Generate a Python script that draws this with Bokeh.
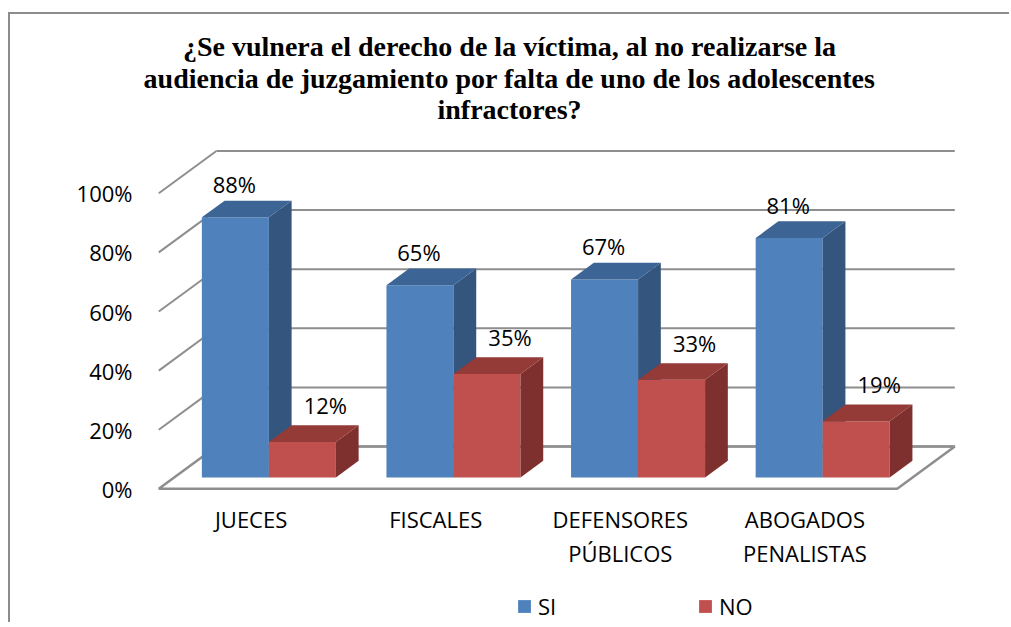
from bokeh.plotting import figure
from bokeh.models import Range1d, FixedTicker, Legend, LegendItem
from bokeh.core.properties import value
from bokeh.embed import file_html
from bokeh.resources import INLINE

# ---------------- data ----------------
categories = ["JUECES", "FISCALES", "DEFENSORES\nPÚBLICOS", "ABOGADOS\nPENALISTAS"]
series = ["SI", "NO"]
si_values = [88, 65, 67, 81]
no_values = [12, 35, 33, 19]
y_ticks = [0, 20, 40, 60, 80, 100]
y_tick_labels = ["0%", "20%", "40%", "60%", "80%", "100%"]
title_lines = [
    "¿Se vulnera el derecho de la víctima, al no realizarse la",
    "audiencia de juzgamiento por falta de uno de los adolescentes",
    "infractores?",
]

# ---------------- styles ----------------
front_colors = ["#4F81BD", "#C0504D"]
side_colors = ["#34557E", "#7E302E"]
top_colors = ["#3C6494", "#943A37"]
grid_color = "#8E8E8E"
border_css = "2px solid #8C8C8C"
FONT = "Open Sans"
TITLE_FONT = "Liberation Serif"

# layout in canvas px
W, H = 1001, 610
FL, FR, FT = 124, 21, 0
PX_CAT = 184.6          # px per category on the front plane
PX_PCT = 2.955          # px per percent
ORIGIN_X, ORIGIN_Y = 148.3, 474.3   # front-left floor corner in canvas px

DEPTH_X = 57.6 / PX_CAT
DEPTH_Y = 42.3 / PX_PCT
Z_FRONT, Z_BACK = 0.27, 0.665
GAP = 0.149
BAR_W = 0.363
LABEL_DX = [-1, 23]
LABEL_DY = [33, 37]
CAT_TOP_PX = 489
TITLE_CX_PX = 499
TITLE_CY_PX = [32, 64, 95]

frame_w = W - FL - FR
frame_h = H - FT
x_start = (FL - ORIGIN_X) / PX_CAT
x_end = x_start + frame_w / PX_CAT
y_end = (ORIGIN_Y - FT) / PX_PCT
y_start = y_end - frame_h / PX_PCT


def px_to_x(px):
    return (px - ORIGIN_X) / PX_CAT


def px_to_y(py):
    return (ORIGIN_Y - py) / PX_PCT


p = figure(
    width=W, height=H,
    x_range=Range1d(x_start, x_end), y_range=Range1d(y_start, y_end),
    output_backend="svg", toolbar_location=None, x_axis_location=None,
    min_border_left=FL, min_border_right=FR, min_border_top=FT, min_border_bottom=0,
    styles={"margin-left": "8px", "margin-top": "12px",
            "border-left": border_css, "border-top": border_css},
)
p.outline_line_color = None
p.xgrid.visible = False
p.ygrid.visible = False
p.background_fill_color = "white"
p.border_fill_color = "white"

# title lines
p.text(x=[px_to_x(TITLE_CX_PX)] * len(title_lines), y=[px_to_y(c) for c in TITLE_CY_PX],
       text=title_lines, text_align="center", text_baseline="middle",
       text_font=value(TITLE_FONT), text_font_size="28px", text_font_style="bold",
       text_color="black")

# y axis
ax = p.yaxis[0]
ax.ticker = FixedTicker(ticks=y_ticks)
ax.major_label_overrides = dict(zip(y_ticks, y_tick_labels))
ax.axis_line_color = None
ax.major_tick_line_color = None
ax.minor_tick_line_color = None
ax.major_tick_out = 0
ax.major_tick_in = 0
ax.major_label_standoff = 2
ax.major_label_text_font = FONT
ax.major_label_text_font_size = "22px"
ax.major_label_text_color = "black"

n = len(categories)

# floor
p.patch([0, n, n + DEPTH_X, DEPTH_X], [0, 0, DEPTH_Y, DEPTH_Y],
        fill_color="white", line_color=grid_color, line_width=2.5)
# back wall gridlines
p.multi_line(xs=[[DEPTH_X, n + DEPTH_X] for t in y_ticks],
             ys=[[t + DEPTH_Y, t + DEPTH_Y] for t in y_ticks],
             line_color=grid_color, line_width=2)
# side wall diagonals
p.multi_line(xs=[[0, DEPTH_X] for t in y_ticks[1:]],
             ys=[[t, t + DEPTH_Y] for t in y_ticks[1:]],
             line_color=grid_color, line_width=2)

dzx = (Z_BACK - Z_FRONT) * DEPTH_X
dzy = (Z_BACK - Z_FRONT) * DEPTH_Y
yb = Z_FRONT * DEPTH_Y
front_renderers = []
for s, vals in enumerate([si_values, no_values]):
    x0 = [i + GAP + s * BAR_W + Z_FRONT * DEPTH_X for i in range(n)]
    x1 = [a + BAR_W for a in x0]
    yt = [v + yb for v in vals]
    fr = p.quad(left=x0, right=x1, bottom=[yb] * n, top=yt,
                fill_color=front_colors[s], line_color=None)
    front_renderers.append(fr)
    p.patches(xs=[[b, b + dzx, b + dzx, b] for b in x1],
              ys=[[yb, yb + dzy, t + dzy, t] for t in yt],
              fill_color=side_colors[s], line_color=None)
    p.patches(xs=[[a, b, b + dzx, a + dzx] for a, b in zip(x0, x1)],
              ys=[[t, t, t + dzy, t + dzy] for t in yt],
              fill_color=top_colors[s], line_color=None)
    p.text(x=[(a + b) / 2 for a, b in zip(x0, x1)], y=yt,
           text=[f"{v}%" for v in vals],
           x_offset=LABEL_DX[s], y_offset=-LABEL_DY[s],
           text_align="center", text_baseline="middle",
           text_font=value(FONT), text_font_size="22px", text_color="black")

# category labels
p.text(x=[i + 0.5 for i in range(n)], y=[px_to_y(CAT_TOP_PX)] * n, text=categories,
       text_align="center", text_baseline="top", text_line_height=1.16,
       text_font=value(FONT), text_font_size="22px", text_color="black")

legend = Legend(
    items=[LegendItem(label=series[s], renderers=[front_renderers[s]]) for s in range(2)],
    orientation="horizontal", location=(382, 3),
    glyph_width=16, glyph_height=16, label_standoff=6, spacing=139,
    padding=0, margin=0, border_line_color=None, background_fill_alpha=0,
    label_text_font=FONT, label_text_font_size="22px", label_text_color="black",
)
p.add_layout(legend)

open("out.html", "w").write(file_html(p, INLINE))
